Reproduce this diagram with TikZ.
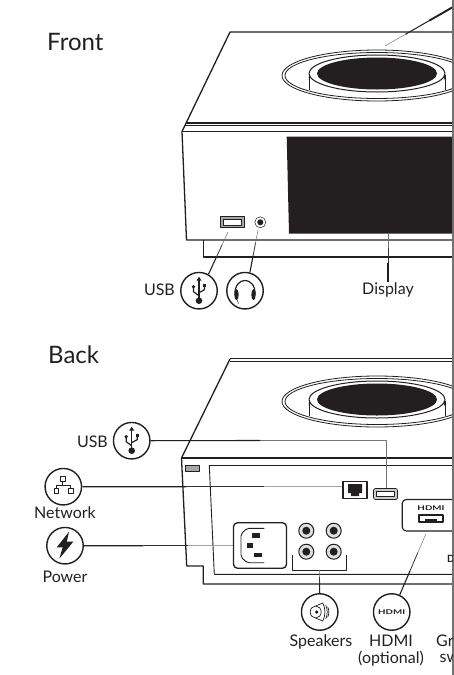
\documentclass[tikz,border=0pt]{standalone}
\usepackage{fontspec}
\setmainfont{Lato}
\usetikzlibrary{calc}
\definecolor{ink}{HTML}{231F20}

\newcommand{\leader}[2]{%
  \draw[lead] (#1) -- ($(#1)!0.4!(#2)$);
  \draw[leadmid] ($(#1)!0.4!(#2)$) -- ($(#1)!0.7!(#2)$);
  \draw[leadthin] ($(#1)!0.7!(#2)$) -- (#2);
}
\newcommand{\hdmilogo}{\scalebox{1.5}[1]{HDMI}}

\begin{document}
\begin{tikzpicture}[
    x=1pt, y=-1pt, ink, line join=round,
    title/.style={font=\fontsize{24}{26}\selectfont, text=ink, inner sep=0pt},
    lab/.style={font=\fontsize{16}{17}\selectfont, text=ink, inner sep=0pt, align=center},
    icon/.style={draw=ink, circle, line width=1.4pt, minimum size=36.5pt, inner sep=0pt, fill=white},
    lead/.style={line width=1.1pt, ink},
    leadmid/.style={line width=0.8pt, black!80},
    leadthin/.style={line width=0.5pt, black!55},
    body/.style={line width=1.3pt, ink},
    panel/.style={line width=0.9pt, ink},
    jack/.style={draw=ink, circle, line width=1pt, minimum size=15pt, inner sep=0pt, fill=black!12},
    usbport/.style={draw=ink, fill=black!35, line width=0.7pt, minimum width=24pt, minimum height=11pt, inner sep=0pt},
    logo/.style={font=\fontsize{6.5}{7}\bfseries\selectfont, text=ink, inner sep=0pt},
    pin/.style={fill=ink, minimum width=8pt, minimum height=4.5pt, inner sep=0pt},
    dish/.pic={
        \draw[line width=0.8pt] (0,0) ellipse [x radius=95, y radius=25.5];
        \draw[line width=0.8pt] (0,0) ellipse [x radius=92, y radius=23];
        \draw[line width=0.9pt] (-68,-1) -- (-68,14);
        \draw[line width=0.9pt] (68,-1) -- (68,14);
        \draw[line width=0.9pt] (-68,4) arc [start angle=180, end angle=360, x radius=68, y radius=17, y=-1pt];
        \draw[line width=0.9pt] (-68,2) arc [start angle=180, end angle=360, x radius=68, y radius=17, y=-1pt];
        \draw[line width=1pt, fill=white] (0,-2) ellipse [x radius=68, y radius=18.5];
        \fill[ink] (0,-2) ellipse [x radius=60, y radius=16];
    },
    usbicon/.pic={
        \draw[line width=1.2pt] (0,-11) -- (0,8);
        \fill (0,-14) -- (-2.6,-10) -- (2.6,-10) -- cycle;
        \fill (0,10) circle [radius=3.3];
        \draw[line width=1.2pt] (0,5) -- (-5.5,1) -- (-5.5,-3);
        \fill (-5.5,-4) circle [radius=1.8];
        \draw[line width=1.2pt] (0,2) -- (5.5,-1) -- (5.5,-5);
        \fill (3.8,-7) rectangle (7.2,-4);
    },
    phonesicon/.pic={
        \draw[line width=1.2pt] (-10,4) .. controls (-11,-15) and (11,-15) .. (10,4);
        \fill (-8.5,4) ellipse [x radius=2.2, y radius=5.5];
        \fill (8.5,4) ellipse [x radius=2.2, y radius=5.5];
        \draw[line width=0.5pt] (-8,9) -- (-6.5,13);
    },
    neticon/.pic={
        \draw[line width=0.8pt] (-0.7,-5) -- (-0.7,-1) (-7,2) -- (-7,-1) -- (7.3,-1) -- (7.3,2);
        \draw[line width=0.8pt] (-3,-10) rectangle (1.6,-5.4);
        \draw[line width=0.8pt] (-9.2,2) rectangle (-4.6,6.6);
        \draw[line width=0.8pt] (5,2) rectangle (9.6,6.6);
    },
    bolticon/.pic={
        \fill (4,-14) -- (-8.3,1.7) -- (-2.3,1.7) -- (-5.7,13) -- (8.3,-4) -- (1.8,-4) -- cycle;
    },
    speakericon/.pic={
        \draw[line width=0.7pt] (-4,0) ellipse [x radius=5.5, y radius=6];
        \fill (-3,0) circle [radius=1.8];
        \draw[line width=0.7pt] (-4,-6) -- (3,-9) .. controls (6,-4) and (6,4) .. (3,9) -- (-4,6);
        \draw[line width=0.7pt] (6,-7) .. controls (8,-3) and (8,3) .. (6,7);
        \draw[line width=0.7pt] (8,-5) .. controls (9.5,-2) and (9.5,2) .. (8,5);
    },
]
\useasboundingbox (0,0) rectangle (454,675);
\fill[black!55] (452,0) rectangle (454,675);

\begin{scope}
\clip (0,0) rectangle (452,675);

% front
\node[title, anchor=west] (front) at (47,42) {Front};

\draw[body] (452,32) -- (230,32) -- (182,131.5) -- (186.5,240) -- (452,240);
\draw[body] (203.5,240) -- (203.5,257) -- (452,257);
\draw[body] (186,123) -- (452,123);
\draw[line width=0.9pt] (185,125.5) -- (452,125.5);
\draw[body] (182,131.5) -- (452,131.5);
\pic at (377,75.5) {dish};
\fill[ink] (286.7,136.7) -- (452,136.7) -- (452,233.5) -- (289,233.5) -- cycle;

\node[usbport] (fusb) at (232,222) {};
\node[fill=white, draw=ink, line width=0.4pt, minimum width=18pt, minimum height=6pt, inner sep=0pt] at (fusb) {};
\node[jack, minimum size=11pt, line width=0.5pt, fill=white] (fjack) at (260.3,222.3) {};
\fill[ink] (fjack.center) circle [radius=3];
\coordinate (fusbend) at (228,232);
\coordinate (fjackend) at (258,230);
\coordinate (fdisp) at (388,234);
\coordinate (topend) at (385,46);
\coordinate (topstart) at (453,7);

\node[icon] (iusb) at (199,290.7) {};
\pic at (iusb) {usbicon};
\node[icon] (iphones) at (245,290.7) {};
\pic at (iphones) {phonesicon};
\node[lab, anchor=east] (lusb) at (175,290) {USB};
\node[lab] (ldisp) at (388,289.5) {Display};

\leader{iusb.60}{fusbend}
\leader{iphones.75}{fjackend}
\leader{ldisp.north}{fdisp}
\draw[line width=1.9pt] (topstart) -- ($(topstart)!0.35!(topend)$);
\draw[line width=1pt] ($(topstart)!0.35!(topend)$) -- ($(topstart)!0.7!(topend)$);
\draw[leadthin] ($(topstart)!0.7!(topend)$) -- (topend);

% back
\node[title, anchor=west] (back) at (48,355) {Back};

\draw[line width=0.8pt] (230,358.8) -- (452,358.8);
\draw[line width=1.7pt] (230,361.5) -- (452,361.5);
\draw[body] (181.5,458) -- (452,458);
\draw[panel] (452,465.5) -- (209.3,465.5) -- (214.3,574.3) -- (452,574.3);
\draw[body] (230,359) -- (181.5,458) -- (186.7,566) -- (203.3,566) -- (203.3,584) -- (452,584);
\pic at (377,401.5) {dish};
\draw[line width=0.7pt, fill=black!35] (185.7,465) rectangle (199.3,471.7);

\node[draw=ink, line width=1.5pt, minimum width=24pt, minimum height=17pt, inner sep=0pt, fill=white] (rnet) at (355,490) {};
\fill[ink] (348,484) -- (362,484) -- (362,493) -- (359,493) -- (359,496) -- (351,496) -- (351,493) -- (348,493) -- cycle;
\node[usbport, rounded corners=1.5pt, fill=black!20] (rusb) at (385.5,494) {};
\node[fill=white, draw=ink, line width=0.4pt, minimum width=18pt, minimum height=5pt, inner sep=0pt] at (rusb) {};

\node[draw=ink, rounded corners=4pt, line width=1.3pt, minimum width=53pt, minimum height=45.5pt, inner sep=0pt, fill=white] (rpower) at (260,545.5) {};
\draw[line width=0.9pt, rounded corners=2pt] (264.3,528.3) -- (247,528.3) -- (241,534) -- (241,557) -- (247,562.7) -- (264.3,562.7);
\node[pin] (p1) at (255.5,535.7) {};
\node[pin, minimum width=6pt] (p2) at (249.5,545.7) {};
\node[pin] (p3) at (258.3,555) {};

\foreach \x/\y [count=\i] in {306.3/530.7, 333.7/530.7, 306.3/551.7, 333.7/551.7} {
    \node[jack] (sj\i) at (\x,\y) {};
    \fill[ink] (sj\i.center) circle [radius=4];
}
\coordinate (spkl) at (292.3,555);
\coordinate (spkr) at (346.7,555);
\draw[line width=0.7pt] (spkl) -- (292.3,570) -- (346.7,570) -- (spkr);
\coordinate (spkend) at (319.5,570);

\node[draw=ink, rounded corners=4pt, line width=1.1pt, minimum width=70pt, minimum height=31.5pt, inner sep=0pt, fill=white, anchor=west] (rhdmi) at (401.7,515.2) {};
\node[logo] (hlogo) at (431,507.7) {\hdmilogo};
\node[draw=ink, line width=1.3pt, minimum width=24pt, minimum height=7pt, inner sep=0pt] (hport) at (431,518.5) {};
\fill[ink] (425,519) rectangle (437,523);
\coordinate (hdmiend) at (425.7,534.3);
\node[font=\fontsize{10}{10}\bfseries\selectfont, text=ink, inner sep=0pt, anchor=west] (dmark) at (447,559) {D};

\node[icon] (ibusb) at (131.7,440.7) {};
\pic at (ibusb) {usbicon};
\node[icon] (inet) at (63.3,486.7) {};
\pic at (inet) {neticon};
\node[icon] (ipower) at (65,545.7) {};
\pic at (ipower) {bolticon};
\node[icon] (ispk) at (319.7,612) {};
\pic at (ispk) {speakericon};
\node[icon] (ihdmi) at (391.7,612) {};
\node[logo] (ihlogo) at (ihdmi) {\hdmilogo};

\node[lab, anchor=east] (lbusb) at (108,441.5) {USB};
\node[lab] (lnet) at (65,513) {Network};
\node[lab] (lpower) at (65,577) {Power};
\node[lab] (lspk) at (321,642) {Speakers};
\node[lab] (lhdmi) at (391,650.5) {HDMI\\(optional)};
\node[lab, anchor=west] (lgr) at (436,641) {Gr};
\node[lab, anchor=west] (lsw) at (439.5,658) {sw};

\coordinate (bend) at (386,440.5);
\draw[lead] (ibusb.east) -- (260,440.5);
\draw[leadthin] (260,440.5) -- (bend) -- (rusb.north-|bend);
\leader{inet.east}{rnet.west|-inet.east}
\leader{ipower.east}{rpower.west|-ipower.east}
\leader{ispk.north}{spkend}
\leader{ihdmi.65}{hdmiend}
\end{scope}

\end{tikzpicture}
\end{document}
